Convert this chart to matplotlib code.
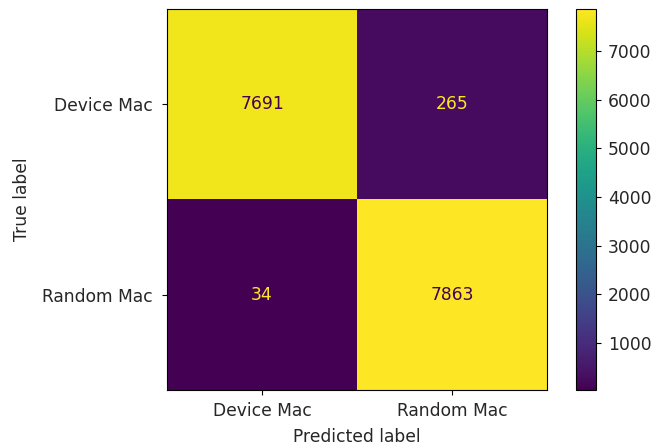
import numpy as np
import matplotlib
matplotlib.use("Agg")
import matplotlib.pyplot as plt

labels = ["Device Mac", "Random Mac"]
cm = np.array([[7691, 265],
               [34, 7863]])
cbar_ticks = [1000, 2000, 3000, 4000, 5000, 6000, 7000]

plt.rcParams['font.size'] = 12.3
plt.rcParams['text.color'] = '#262626'
plt.rcParams['axes.labelcolor'] = '#262626'
plt.rcParams['xtick.labelcolor'] = '#262626'
plt.rcParams['ytick.labelcolor'] = '#262626'
fig = plt.figure(figsize=(6.67, 4.48), dpi=100)
ax = fig.add_axes([0.2504, 0.1295, 0.570, 0.8504])
cax = fig.add_axes([0.8636, 0.1295, 0.030, 0.8504])

cmap = plt.get_cmap('viridis')
im = ax.imshow(cm, interpolation='nearest', cmap=cmap)
vmin, vmax = cm.min(), cm.max()
thresh = (vmax + vmin) / 2.0
for i in range(cm.shape[0]):
    for j in range(cm.shape[1]):
        color = cmap(0) if cm[i, j] >= thresh else cmap(256)
        ax.text(j, i, str(cm[i, j]), ha='center', va='center', color=color)

ax.set_xticks(range(len(labels)))
ax.set_xticklabels(labels)
ax.set_yticks(range(len(labels)))
ax.set_yticklabels(labels)
ax.tick_params(axis='x', pad=5.7)
ax.tick_params(axis='y', pad=7)
ax.set_xlabel("Predicted label", labelpad=5.5)
ax.set_ylabel("True label", labelpad=7.5)
ax.set_ylim(len(labels) - 0.5, -0.5)

cb = fig.colorbar(im, cax=cax)
cb.set_ticks(cbar_ticks)
cax.tick_params(pad=5)

fig.savefig("out.png", dpi=100)
